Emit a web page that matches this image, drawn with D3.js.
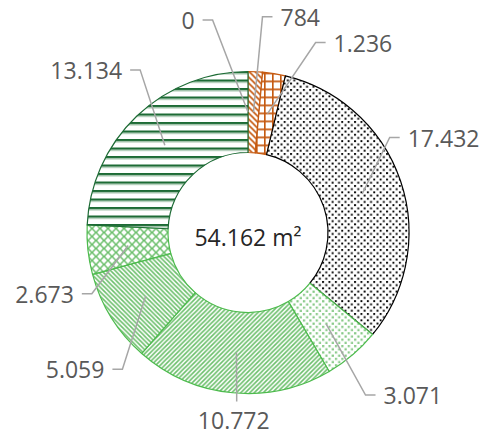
<!DOCTYPE html>
<html>
<head>
<meta charset="utf-8">
<script src="https://cdn.jsdelivr.net/npm/d3@7"></script>
<style>
  body { margin: 0; background: #ffffff; }
  text { font-family: "Open Sans", "Noto Sans", sans-serif; }
</style>
</head>
<body>
<script>
// chart size
var w = 486;
var h = 437;

// data
var values = [0, 784, 1236, 17432, 3071, 10772, 5059, 2673, 13134];
var patterns = ["pZero", "pSmall", "pGrid", "pDots", "pLightDots", "pUp", "pDown", "pDiamond", "pLines"];
var outlines = ["#c55a11", "#c55a11", "#c55a11", "#000000", "#4dbb4d", "#4dbb4d", "#4dbb4d", "#4dbb4d", "#1d6b35"];
var centerLabel = "54.162 m\u00b2";

// where the leader elbows sit, relative to the centre (in outer radii), and which side the text goes
var elbowX = [-0.22, 0.09, 0.42, 0.88, 0.73, -0.07, -0.78, -0.97, -0.67];
var elbowY = [-1.32, -1.34, -1.18, -0.59, 1.01, 1.05, 0.85, 0.38, -1.01];
var side = ["left", "right", "right", "right", "right", "below", "left", "left", "left"];

var cx = 248;
var cy = 232.5;
var outerR = 161;
var innerR = 80;

window.onload = function() {
  var svg = d3.select("body")
              .append("svg")
              .attr("width", w)
              .attr("height", h);

  makePatterns(svg);
  drawDonut(svg);
  drawLabels(svg);
};

function makePatterns(svg){
  var defs = svg.append("defs");
  var brown = "#c55a11";
  var green = "#6cbf6c";

  // tiny diagonal lines for the small brown slice
  var p = addPattern(defs, "pSmall", 6);
  p.append("path").attr("d", "M0,0L6,6M-1,5L1,7M5,-1L7,1")
   .attr("stroke", brown).attr("stroke-width", 1.6);
  addPattern(defs, "pZero", 6);

  // brown grid
  p = addPattern(defs, "pGrid", 8);
  p.append("path").attr("d", "M0.8,0V8M0,0.8H8")
   .attr("stroke", brown).attr("stroke-width", 1.7);

  // black dots
  p = addPattern(defs, "pDots", 6.4);
  p.append("rect").attr("x", 0.5).attr("y", 0.5).attr("width", 1.9).attr("height", 1.9).attr("fill", "#000");
  p.append("rect").attr("x", 3.7).attr("y", 3.7).attr("width", 1.9).attr("height", 1.9).attr("fill", "#000");

  // light green dots
  p = addPattern(defs, "pLightDots", 6.4);
  p.append("rect").attr("x", 0.5).attr("y", 0.5).attr("width", 2.2).attr("height", 2.2).attr("fill", "#86c986");
  p.append("rect").attr("x", 3.7).attr("y", 3.7).attr("width", 2.2).attr("height", 2.2).attr("fill", "#86c986");

  // upward diagonal
  p = addPattern(defs, "pUp", 4.5);
  p.append("path").attr("d", "M0,4.5L4.5,0M-1,1L1,-1M3.5,5.5L5.5,3.5")
   .attr("stroke", green).attr("stroke-width", 1.6);

  // downward diagonal
  p = addPattern(defs, "pDown", 4.5);
  p.append("path").attr("d", "M0,0L4.5,4.5M-1,3.5L1,5.5M3.5,-1L5.5,1")
   .attr("stroke", green).attr("stroke-width", 1.6);

  // diamond cross hatch
  p = addPattern(defs, "pDiamond", 8);
  p.append("path").attr("d", "M0,0L8,8M8,0L0,8")
   .attr("stroke", green).attr("stroke-width", 1.5);

  // dark green horizontal lines
  p = addPattern(defs, "pLines", 8.5);
  p.append("rect").attr("x", 0).attr("y", 0).attr("width", 8.5).attr("height", 2.4).attr("fill", "#1d6b35");
  p.append("rect").attr("x", 0).attr("y", 2.4).attr("width", 8.5).attr("height", 1.2).attr("fill", "#b9d3bf");
}

function addPattern(defs, id, size){
  var p = defs.append("pattern")
              .attr("id", id)
              .attr("patternUnits", "userSpaceOnUse")
              .attr("width", size)
              .attr("height", size);
  p.append("rect").attr("width", size).attr("height", size).attr("fill", "#ffffff");
  return p;
}

function drawDonut(svg){
  var pie = d3.pie().sort(null).value(function(d){ return d; });
  var arc = d3.arc().innerRadius(innerR).outerRadius(outerR);

  var g = svg.append("g").attr("transform", "translate(" + cx + "," + cy + ")");

  g.selectAll("path")
   .data(pie(values))
   .enter()
   .append("path")
   .attr("d", arc)
   .attr("fill", function(d, i){ return "url(#" + patterns[i] + ")"; })
   .attr("stroke", function(d, i){ return outlines[i]; })
   .attr("stroke-width", 1.2)
   .attr("stroke-linejoin", "round");

  g.append("text")
   .attr("text-anchor", "middle")
   .attr("y", 5)
   .attr("dy", "0.35em")
   .style("font-size", "23px")
   .attr("fill", "#262626")
   .text(centerLabel);
}

function drawLabels(svg){
  var pie = d3.pie().sort(null).value(function(d){ return d; });
  var mid = d3.arc().innerRadius((innerR + outerR) / 2).outerRadius((innerR + outerR) / 2);
  var fmt = d3.formatLocale({decimal: ",", thousands: ".", grouping: [3], currency: ["", ""]}).format(",d");

  var g = svg.append("g").attr("transform", "translate(" + cx + "," + cy + ")");

  pie(values).forEach(function(d, i){
    var p = mid.centroid(d);
    var ex = elbowX[i] * outerR;
    var ey = elbowY[i] * outerR;
    var pts, tx, ty, anchor;

    if (side[i] == "left"){
      pts = [p, [ex, ey], [ex - 10, ey]];
      tx = ex - 18; ty = ey + 1; anchor = "end";
    }
    else if (side[i] == "right"){
      pts = [p, [ex, ey], [ex + 10, ey]];
      tx = ex + 18; ty = ey + 1; anchor = "start";
    }
    else {
      pts = [p, [ex, ey]];
      tx = ex - 3; ty = ey + 19; anchor = "middle";
    }

    g.append("path")
     .attr("d", d3.line()(pts))
     .attr("fill", "none")
     .attr("stroke", "#a6a6a6")
     .attr("stroke-width", 1.5);

    g.append("text")
     .attr("x", tx)
     .attr("y", ty)
     .attr("dy", "0.35em")
     .attr("text-anchor", anchor)
     .style("font-size", "23px")
     .attr("fill", "#595959")
     .text(fmt(values[i]));
  });
}
</script>
</body>
</html>
